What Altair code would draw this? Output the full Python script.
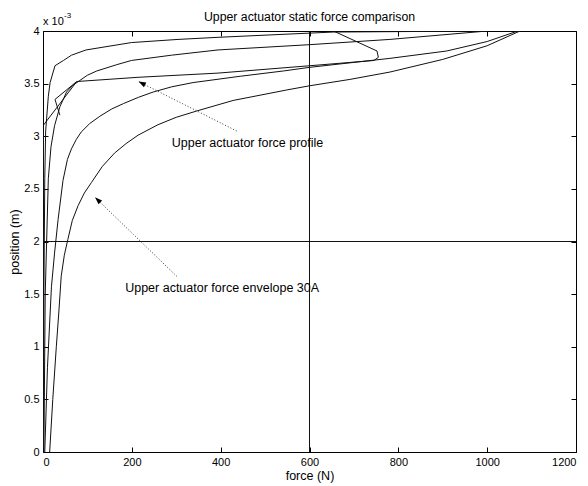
import math
import altair as alt
import pandas as pd

# ---------------- data (force in N, position in 1e-3 m) ----------------
env_a_force = [15, 22, 30, 36, 41, 48, 56, 66, 79, 93, 109, 133, 161, 187, 214, 259, 300, 346, 428,
               549, 601, 691, 781, 900, 1000, 1074]
env_a_pos = [0, 0.5, 1.0, 1.35, 1.67, 1.87, 2.02, 2.20, 2.34, 2.46, 2.56, 2.71, 2.84, 2.93, 3.01, 3.11,
             3.18, 3.24, 3.34, 3.44, 3.48, 3.54, 3.61, 3.73, 3.86, 4.0]

env_b_force = [4, 10, 19, 26, 34, 45, 55, 64, 75, 86, 105, 128, 155, 181, 215, 248, 290, 338, 444,
               541, 601, 781, 909, 1000, 1069]
env_b_pos = [0, 0.8, 1.57, 1.89, 2.21, 2.58, 2.78, 2.88, 2.97, 3.04, 3.12, 3.19, 3.26, 3.31, 3.37,
             3.42, 3.47, 3.51, 3.57, 3.62, 3.655, 3.74, 3.81, 3.90, 4.0]

env_c_force = [2, 5, 12, 18, 26, 38, 53, 66, 83, 100, 121, 166, 199, 289, 394, 600, 781, 1000]
env_c_pos = [0, 1.5, 2.6, 2.9, 3.1, 3.28, 3.42, 3.48, 3.53, 3.58, 3.62, 3.68, 3.72, 3.77, 3.82, 3.87,
             3.92, 4.0]

env_d_force = [1, 2, 4, 6, 12, 16, 27, 46, 64, 97, 199, 304, 394, 601, 653, 1000]
env_d_pos = [0, 1.5, 2.6, 3.05, 3.38, 3.51, 3.67, 3.72, 3.77, 3.82, 3.89, 3.92, 3.94, 3.98, 3.99, 4.0]

profile_force = [1, 1, 0, 76, 214, 394, 601, 745, 755, 752, 654]
profile_pos = [0, 3.0, 3.1, 3.52, 3.56, 3.60, 3.67, 3.72, 3.75, 3.81, 4.0]

profile2_force = [38, 27, 76]
profile2_pos = [3.2, 3.35, 3.52]

vline_force = [600]
hline_pos = [2]

title_text = "Upper actuator static force comparison"
ann_text = ["Upper actuator force profile", "Upper actuator force envelope 30A"]
ann_text_force = [290, 185]
ann_text_pos = [2.94, 1.56]
arrow_from_force = [436, 301]
arrow_from_pos = [3.05, 1.67]
arrow_to_force = [215, 117]
arrow_to_pos = [3.52, 2.42]

x_ticks = [0, 200, 400, 600, 800, 1000, 1200]
y_ticks = [0, 0.5, 1, 1.5, 2, 2.5, 3, 3.5, 4]

# ---------------- layout ----------------
W, H = 533, 421
FONT = "Liberation Sans"
XMAX, YMAX = 1200, 4
TXT = 12.5


def to_rows(items):
    rows = []
    for name, fs, ps in items:
        for i, (f, p) in enumerate(zip(fs, ps)):
            rows.append({"series": name, "idx": i, "force": f, "pos": p})
    return pd.DataFrame(rows)


lines_df = to_rows([("A", env_a_force, env_a_pos), ("B", env_b_force, env_b_pos),
                    ("C", env_c_force, env_c_pos), ("D", env_d_force, env_d_pos),
                    ("P", profile_force, profile_pos), ("P2", profile2_force, profile2_pos)])

ann_df = pd.DataFrame({
    "text": ann_text, "tf": ann_text_force, "tp": ann_text_pos,
    "f0": arrow_from_force, "p0": arrow_from_pos,
    "f1": arrow_to_force, "p1": arrow_to_pos,
})
ang = []
for f0, p0, f1, p1 in zip(arrow_from_force, arrow_from_pos, arrow_to_force, arrow_to_pos):
    dx = (f1 - f0) / XMAX * W
    dy = -(p1 - p0) / YMAX * H
    ang.append(math.degrees(math.atan2(dx, -dy)) % 360)
ann_df["angle"] = ang

xs = alt.Scale(domain=[0, XMAX], nice=False, zero=False)
ys = alt.Scale(domain=[0, YMAX], nice=False, zero=False)

common_axis = dict(domain=False, grid=False, tickColor="black", tickSize=5, offset=-5,
                   labelFont=FONT, labelFontSize=11, labelColor="black",
                   titleFont=FONT, titleFontSize=TXT, titleColor="black", titleFontWeight="normal")

x_bottom = alt.Axis(orient="bottom", values=x_ticks, title="force (N)", labelPadding=4,
                    titlePadding=2, labelExpr="datum.value + ''", **common_axis)
y_left = alt.Axis(orient="left", values=y_ticks, title="position (m)", labelPadding=4,
                  titlePadding=2, labelExpr="datum.value + ''", **common_axis)
x_top = alt.Axis(orient="top", values=x_ticks, title=None, labels=False, **common_axis)
y_right = alt.Axis(orient="right", values=y_ticks, title=None, labels=False, **common_axis)

curves = alt.Chart(lines_df).mark_line(color="#111111", strokeWidth=1, clip=True).encode(
    x=alt.X("force:Q", scale=xs, axis=x_bottom),
    y=alt.Y("pos:Q", scale=ys, axis=y_left),
    detail="series:N",
    order="idx:Q",
)

vline = alt.Chart(pd.DataFrame({"force": vline_force})).mark_rule(color="#111111", strokeWidth=1).encode(
    x=alt.X("force:Q", scale=xs, axis=x_top),
)
hline = alt.Chart(pd.DataFrame({"pos": hline_pos})).mark_rule(color="#111111", strokeWidth=1).encode(
    y=alt.Y("pos:Q", scale=ys, axis=y_right),
)

arrows = alt.Chart(ann_df).mark_rule(color="#333333", strokeWidth=1, strokeDash=[1, 2]).encode(
    x=alt.X("f0:Q", scale=xs, axis=None), y=alt.Y("p0:Q", scale=ys, axis=None),
    x2="f1:Q", y2="p1:Q",
)
heads = alt.Chart(ann_df).mark_point(
    shape="M0,0L-0.35,1L0.35,1Z", filled=True, color="black", opacity=1, size=220, strokeWidth=0,
).encode(
    x=alt.X("f1:Q", scale=xs, axis=None), y=alt.Y("p1:Q", scale=ys, axis=None),
    angle=alt.Angle("angle:Q", scale=None),
)
labels = alt.Chart(ann_df).mark_text(align="left", baseline="middle", font=FONT, fontSize=TXT,
                                     color="black").encode(
    x=alt.X("tf:Q", scale=xs, axis=None), y=alt.Y("tp:Q", scale=ys, axis=None),
    text="text:N",
)

title = alt.Chart(pd.DataFrame({"t": [title_text]})).mark_text(
    align="center", baseline="middle", font=FONT, fontSize=12.3, color="black"
).encode(x=alt.value(W / 2), y=alt.value(-14), text="t:N")
expo_base = alt.Chart(pd.DataFrame({"t": ["x 10"]})).mark_text(
    align="left", baseline="middle", font=FONT, fontSize=11, color="black"
).encode(x=alt.value(0), y=alt.value(-9), text="t:N")
expo_sup = alt.Chart(pd.DataFrame({"t": ["-3"]})).mark_text(
    align="left", baseline="middle", font=FONT, fontSize=8, color="black"
).encode(x=alt.value(21), y=alt.value(-15), text="t:N")

chart = alt.layer(curves, vline, hline, arrows, heads, labels,
                  title, expo_base, expo_sup).resolve_axis(
    x="independent", y="independent"
).properties(
    width=W, height=H,
    padding={"left": 43, "top": 31, "right": 12, "bottom": 34},
    autosize=alt.AutoSizeParams(type="none"),
    background="white",
).configure_view(stroke="black", strokeWidth=1)

chart.save("out.html", embed_options={"renderer": "svg", "actions": False})
